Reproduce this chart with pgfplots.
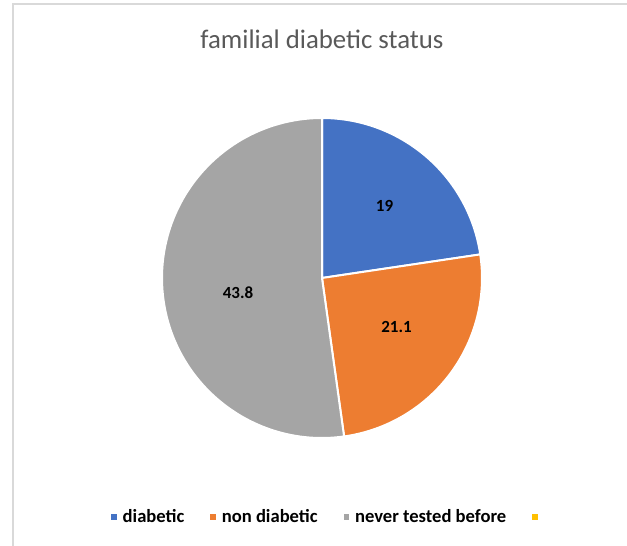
\documentclass[border=0pt]{standalone}
\usepackage{pgfplots}
\pgfplotsset{compat=1.18}
\usepackage{pgfplotstable}
\usepackage{fontspec}
\setmainfont{Carlito}
\definecolor{cblue}{HTML}{4472C4}
\definecolor{corange}{HTML}{ED7D31}
\definecolor{cgray}{HTML}{A5A5A5}
\definecolor{cyellow}{HTML}{FFC000}
\definecolor{ctitle}{HTML}{595959}
\definecolor{cframe}{HTML}{D9D9D9}
\pgfplotstableread{
label value
diabetic 19
nondiabetic 21.1
never 43.8
blank 0
}\datatable
\pgfplotstablegetelem{0}{value}\of\datatable \let\vA\pgfplotsretval
\pgfplotstablegetelem{1}{value}\of\datatable \let\vB\pgfplotsretval
\pgfplotstablegetelem{2}{value}\of\datatable \let\vC\pgfplotsretval
\pgfplotstablegetelem{3}{value}\of\datatable \let\vD\pgfplotsretval
\pgfmathsetmacro{\total}{\vA+\vB+\vC+\vD}
\pgfmathsetmacro{\aA}{90}
\pgfmathsetmacro{\aB}{\aA-360*\vA/\total}
\pgfmathsetmacro{\aC}{\aB-360*\vB/\total}
\pgfmathsetmacro{\aD}{\aC-360*\vC/\total}
\begin{document}
\begin{tikzpicture}
\useasboundingbox (0,0) rectangle (627pt,546pt);
\draw[cframe, line width=1.5pt] (13pt,0) -- (13pt,542pt) -- (627pt,542pt);
\begin{axis}[
  anchor=origin, at={(0,0)},
  x=1pt, y=1pt, xmin=0, xmax=627, ymin=0, ymax=546,
  hide axis, clip=false,
  legend image code/.code={\fill[#1, draw=none] (0pt,-2.75pt) rectangle (5.5pt,2.75pt);},
  legend style={at={(axis cs:111,29)}, anchor=west, draw=none, fill=none,
    inner sep=0pt, nodes={inner sep=0pt},
    font=\bfseries\fontsize{18.6}{22}\selectfont, legend columns=-1,
    /tikz/every even column/.append style={column sep=26pt},
    /tikz/every odd column/.append style={column sep=6pt}},
]
\addlegendimage{fill=cblue}\addlegendentry{diabetic}
\addlegendimage{fill=corange}\addlegendentry{non diabetic}
\addlegendimage{fill=cgray}\addlegendentry{never tested before}
\addlegendimage{fill=cyellow}\addlegendentry{}
\fill[cblue, draw=white, line width=2pt] (axis cs:322,268) -- ++(\aA:160pt) arc[start angle=\aA, end angle=\aB, radius=160pt] -- cycle;
\fill[corange, draw=white, line width=2pt] (axis cs:322,268) -- ++(\aB:160pt) arc[start angle=\aB, end angle=\aC, radius=160pt] -- cycle;
\fill[cgray, draw=white, line width=2pt] (axis cs:322,268) -- ++(\aC:160pt) arc[start angle=\aC, end angle=\aD, radius=160pt] -- cycle;
\node[font=\bfseries\fontsize{17}{20}\selectfont] at (axis cs:384.5,340) {19};
\node[font=\bfseries\fontsize{17}{20}\selectfont] at (axis cs:396.5,219) {21.1};
\node[font=\bfseries\fontsize{17}{20}\selectfont] at (axis cs:238,253) {43.8};
\node[font=\fontsize{26.8}{31}\selectfont, text=ctitle] at (axis cs:322,507) {familial diabetic status};
\end{axis}
\end{tikzpicture}
\end{document}
